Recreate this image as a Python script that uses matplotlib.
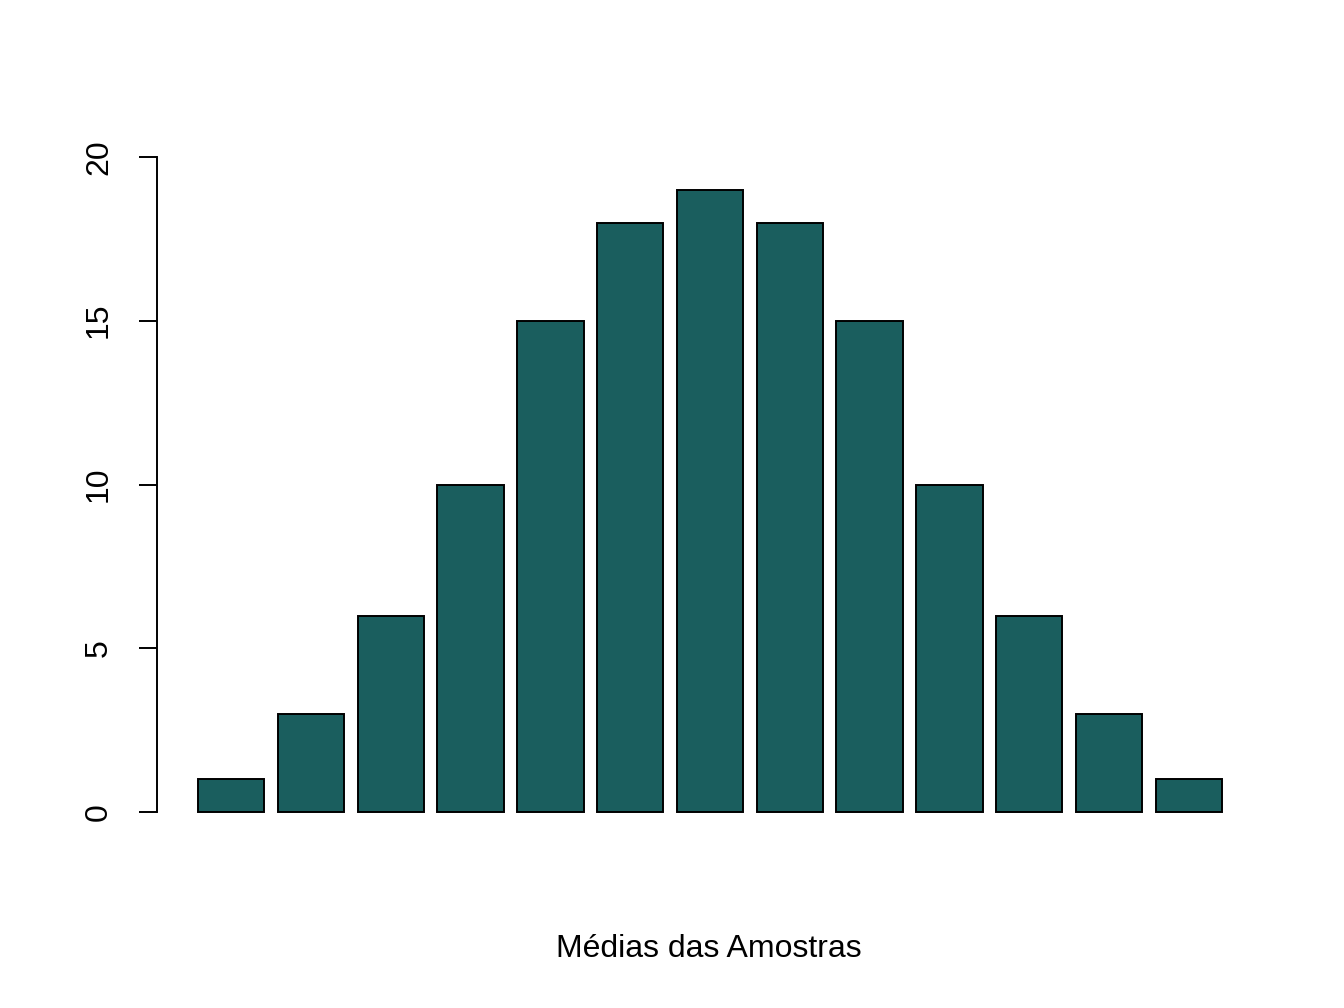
import numpy as np
import matplotlib.pyplot as plt

plt.rcParams['font.family'] = ['Liberation Sans', 'DejaVu Sans']

# frequencias das medias das amostras
contagens = [1, 3, 6, 10, 15, 18, 19, 18, 15, 10, 6, 3, 1]
y_ticks = [0, 5, 10, 15, 20]
x_label = 'Médias das Amostras'

W, H = 1344, 1008
fig = plt.figure(figsize=(W / 100, H / 100), dpi=100)
left, right, top, bottom = 157, 1263, 130.8, 838.2
ax = fig.add_axes([left / W, 1 - bottom / H, (right - left) / W, (bottom - top) / H])

# posicoes estilo barplot do R: largura 1, espaco 0.2
pos = 0.2 + np.arange(len(contagens)) * 1.2 + 0.5
ax.bar(pos, contagens, width=1.0, color='#1a5e5e', edgecolor='black', linewidth=1.4)

ax.set_xlim(-0.416, 16.216)
ax.set_ylim(-0.8, 20.8)

for s in ['top', 'right', 'bottom']:
    ax.spines[s].set_visible(False)
ax.spines['left'].set_bounds(0, 20)
ax.spines['left'].set_linewidth(1.4)
ax.set_xticks([])
ax.set_yticks(y_ticks)
ax.tick_params(axis='y', length=13, width=1.4, pad=18, labelsize=23)
plt.setp(ax.get_yticklabels(), rotation=90, va='center', ha='right')

fig.text(709 / W, 1 - 949 / H, x_label, ha='center', va='center', fontsize=23)

fig.savefig('out.png', dpi=100)
